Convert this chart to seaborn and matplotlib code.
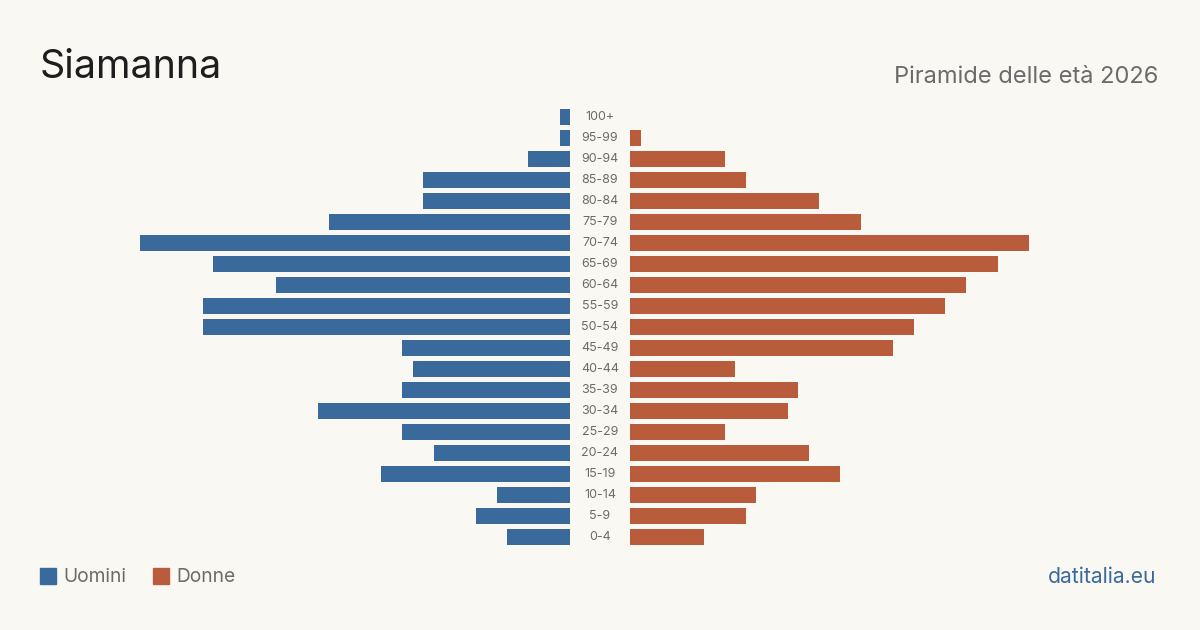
import pandas as pd
import seaborn as sns
import matplotlib.pyplot as plt
from matplotlib.transforms import blended_transform_factory

age_groups = ["100+", "95-99", "90-94", "85-89", "80-84", "75-79", "70-74",
              "65-69", "60-64", "55-59", "50-54", "45-49", "40-44", "35-39",
              "30-34", "25-29", "20-24", "15-19", "10-14", "5-9", "0-4"]
men = [1, 1, 4, 14, 14, 23, 41, 34, 28, 35, 35, 16, 15, 16, 24, 16, 13, 18, 7, 9, 6]
women = [0, 1, 9, 11, 18, 22, 38, 35, 32, 30, 27, 25, 10, 16, 15, 9, 17, 20, 12, 11, 7]

title = "Siamanna"
subtitle = "Piramide delle età 2026"
source = "datitalia.eu"

BG = "#f9f8f3"
BLUE = "#3a6a9c"
RED = "#b95c3c"
GREY = "#6b6b6b"


def main():
    sns.set_style("white")
    plt.rcParams["font.family"] = ["Inter", "DejaVu Sans"]

    df = pd.DataFrame({"age": age_groups, "men": men, "women": women})

    fig = plt.figure(figsize=(12, 6.3), dpi=100, facecolor=BG)
    # pixel scale: about 10.5 px per unit, both halves equal
    half_w = 450 / 1200
    xmax = 450 / 10.5
    bottom = 1 - 547.5 / 630
    height = 441 / 630

    ax_l = fig.add_axes([570 / 1200 - half_w, bottom, half_w, height])
    ax_r = fig.add_axes([630 / 1200, bottom, half_w, height])

    sns.barplot(data=df, y="age", x="men", order=age_groups, color=BLUE,
                saturation=1, width=0.8, orient="h", linewidth=0, ax=ax_l)
    sns.barplot(data=df, y="age", x="women", order=age_groups, color=RED,
                saturation=1, width=0.8, orient="h", linewidth=0, ax=ax_r)

    ax_l.set_xlim(xmax, 0)
    ax_r.set_xlim(0, xmax)
    for ax in (ax_l, ax_r):
        ax.set_facecolor(BG)
        ax.set_ylim(len(age_groups) - 0.5, -0.5)
        ax.set_xlabel("")
        ax.set_ylabel("")
        ax.set_xticks([])
        ax.set_yticks([])
        sns.despine(ax=ax, left=True, bottom=True)

    # age labels in the middle gap
    trans = blended_transform_factory(fig.transFigure, ax_l.transData)
    for i, label in enumerate(age_groups):
        ax_l.text(0.5, i, label, transform=trans, ha="center", va="center",
                  fontsize=9, color=GREY, clip_on=False)

    fig.text(40 / 1200, 1 - 68 / 630, title, fontsize=28.4, color="#1e1e1e",
             ha="left", va="center")
    fig.text(1158 / 1200, 1 - 77 / 630, subtitle, fontsize=17, color=GREY,
             ha="right", va="center")

    # legend
    fig.patches.append(plt.Rectangle((40 / 1200, 1 - 584 / 630), 16 / 1200, 16 / 630,
                                     transform=fig.transFigure, color=BLUE))
    fig.text(63 / 1200, 1 - 577 / 630, "Uomini", fontsize=13.8, color=GREY,
             ha="left", va="center")
    fig.patches.append(plt.Rectangle((153 / 1200, 1 - 584 / 630), 16 / 1200, 16 / 630,
                                     transform=fig.transFigure, color=RED))
    fig.text(176 / 1200, 1 - 577 / 630, "Donne", fontsize=13.8, color=GREY,
             ha="left", va="center")

    fig.text(1156 / 1200, 1 - 577 / 630, source, fontsize=15.2, color=BLUE,
             ha="right", va="center")

    fig.savefig("out.png", dpi=100, facecolor=BG)


if __name__ == "__main__":
    main()
